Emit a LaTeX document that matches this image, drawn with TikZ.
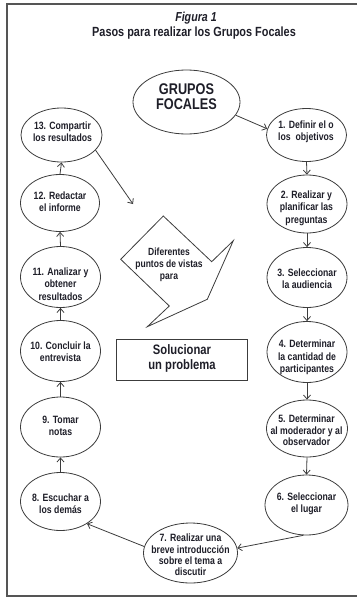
\documentclass[tikz,border=0pt]{standalone}
\usepackage{fontspec}
\newfontfamily\nar[FakeStretch=0.82]{Liberation Sans}
\usetikzlibrary{shapes.geometric,arrows.meta}
\definecolor{linec}{HTML}{3C3C3C}
\definecolor{txtc}{HTML}{1E1E28}
\definecolor{framec}{HTML}{555555}
\begin{document}
\begin{tikzpicture}[x=1pt,y=-1pt,
  ell/.style={draw=linec, line width=0.8pt, ellipse, inner sep=0pt},
  txt/.style={align=center, inner sep=0pt, text=txtc, font=\nar\bfseries\fontsize{10.6}{12.3}\selectfont},
  tight/.style={font=\nar\bfseries\fontsize{10.6}{11.3}\selectfont},
  conn/.style={draw=linec, line width=0.8pt, -{Straight Barb[length=4pt,width=7pt]}}
]
\useasboundingbox (0,0) rectangle (357,597);
% frame
\draw[framec, line width=1.3pt] (357,4) -- (7,4) -- (7,596) -- (357,596);
% title
\node[inner sep=0pt, text=txtc, font=\nar\bfseries\itshape\fontsize{13}{15}\selectfont] (fig) at (196,18) {Figura 1};
\node[inner sep=0pt, text=txtc, font=\nar\bfseries\fontsize{13.3}{15}\selectfont] (ttl) at (194,33.5) {Pasos para realizar los Grupos Focales};
% ellipses
\node[ell, minimum width=107pt, minimum height=64pt] (eG) at (186.5,102) {};
\node[ell, minimum width=81pt, minimum height=54pt] (e13) at (61.5,135) {};
\node[ell, minimum width=80pt, minimum height=53pt] (e1) at (306.5,135) {};
\node[ell, minimum width=79pt, minimum height=57pt] (e12) at (60,203) {};
\node[ell, minimum width=80pt, minimum height=58pt] (e2) at (307,204) {};
\node[ell, minimum width=80pt, minimum height=61pt] (e11) at (60.5,277) {};
\node[ell, minimum width=80pt, minimum height=60pt] (e3) at (307,277.5) {};
\node[ell, minimum width=80pt, minimum height=61pt] (e10) at (60.5,351) {};
\node[ell, minimum width=80pt, minimum height=61pt] (e4) at (307,352) {};
\node[ell, minimum width=80pt, minimum height=60pt] (e9) at (60.5,427) {};
\node[ell, minimum width=81pt, minimum height=57pt] (e5) at (307,428.5) {};
\node[ell, minimum width=80pt, minimum height=58pt] (e8) at (60.5,501.5) {};
\node[ell, minimum width=83pt, minimum height=60pt] (e6) at (306.5,505) {};
\node[ell, minimum width=94pt, minimum height=60pt] (e7) at (190.5,553) {};
% texts
\node[txt, font=\nar\bfseries\fontsize{15.5}{14.5}\selectfont] (tG) at (186.5,96.5) {GRUPOS\\FOCALES};
\node[txt] (t13) at (62.5,132) {13. Compartir\\los resultados};
\node[txt] (t1) at (306,132) {1. Definir el o\\los\ \ objetivos};
\node[txt] (t12) at (60,202) {12. Redactar\\el informe};
\node[txt] (t2) at (306.5,208) {2. Realizar y\\planificar las\\preguntas};
\node[txt] (t11) at (60.5,284) {11. Analizar y\\obtener\\resultados};
\node[txt] (t3) at (307,279) {3. Seleccionar\\la audiencia};
\node[txt] (t10) at (60.5,351.5) {10. Concluir la\\entrevista};
\node[txt] (t4) at (307,357.5) {4. Determinar\\la cantidad de\\participantes};
\node[txt] (t9) at (60.5,425.5) {9. Tomar\\notas};
\node[txt, tight] (t5) at (306.5,430.5) {5. Determinar\\al moderador y al\\observador};
\node[txt] (t8) at (60.5,504) {8. Escuchar a\\los dem\'as};
\node[txt] (t6) at (306.5,504) {6. Seleccionar\\el lugar};
\node[txt, tight] (t7) at (190.5,555) {7. Realizar una\\breve introducci\'on\\sobre el tema a\\discutir};
% arrow shape
\draw[linec, line width=0.8pt, line join=miter] (163.3,216) -- (211.7,261.7) -- (233.3,240.7) -- (207.3,299.3) -- (147.3,326.7) -- (169.3,306) -- (120.7,259.3) -- cycle;
\node[txt, font=\nar\bfseries\fontsize{10.4}{12}\selectfont] (tD) at (169,265) {Diferentes\\puntos de vistas\\para};
% box
\node[draw=linec, line width=0.8pt, minimum width=131pt, minimum height=41pt, inner sep=0pt] (sol) at (181.5,359.5) {};
\node[txt, font=\nar\bfseries\fontsize{13.7}{14.5}\selectfont] (tS) at (182,358.5) {Solucionar\\un problema};
% connectors
\coordinate (c13) at (133,204);
\draw[conn] (eG.-15) -- (e1.171);
\draw[conn] (e1.south) -- (e2.north);
\draw[conn] (e2.south) -- (e3.north);
\draw[conn] (e3.south) -- (e4.north);
\draw[conn] (e4.south) -- (e5.north);
\draw[conn] (e5.south) -- (e6.north);
\draw[conn] (e6.-96) -- (e7.6);
\draw[conn] (e7.172) -- (e8.-40);
\draw[conn] (e8.north) -- (e9.south);
\draw[conn] (e9.north) -- (e10.south);
\draw[conn] (e10.north) -- (e11.south);
\draw[conn] (e11.north) -- (e12.south);
\draw[conn] (e12.north) -- (e13.south);
\draw[conn] (e13.-24) -- (c13);
\end{tikzpicture}
\end{document}
